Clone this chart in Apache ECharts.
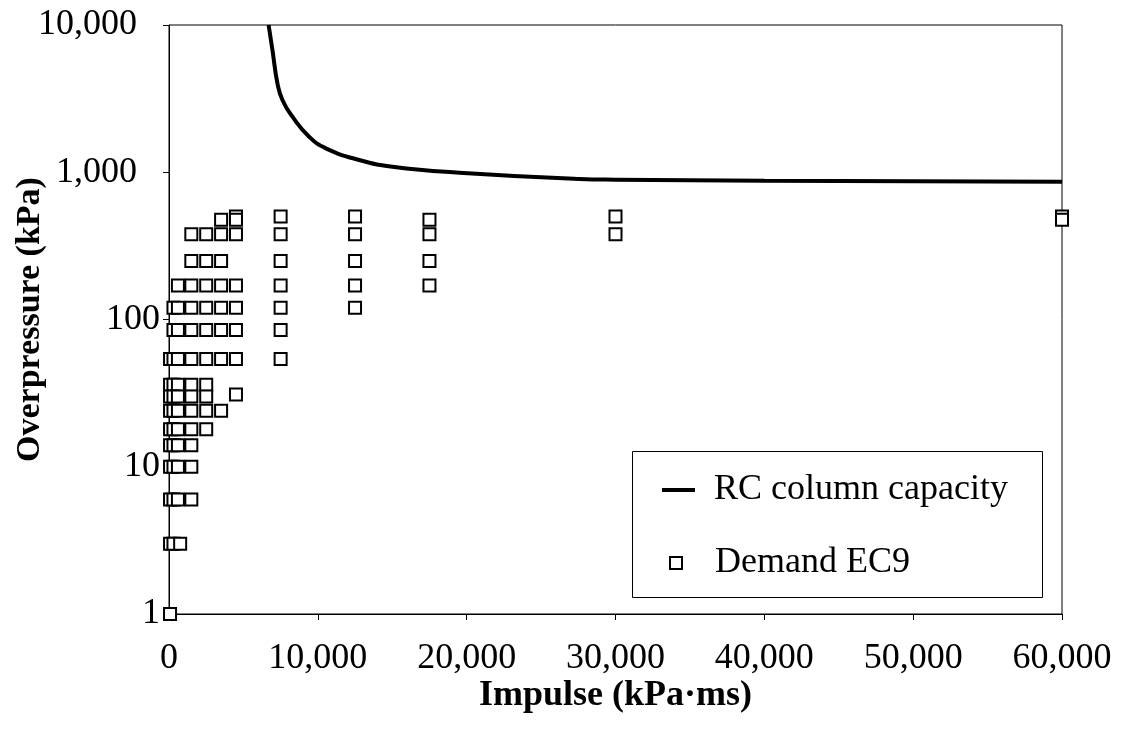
<!DOCTYPE html>
<html><head><meta charset="utf-8">
<script src="https://cdn.jsdelivr.net/npm/echarts@6/dist/echarts.min.js"></script>
<style>html,body{margin:0;padding:0;background:#fff}#c{width:1123px;height:729px}</style>
</head><body><div id="c"></div>
<script>
// Capacity curve (impulse kPa·ms, overpressure kPa)
const capacityImpulse = [6693, 6950, 7285, 7621, 8293, 9417, 10540, 12780, 15020, 19506, 27580, 30000, 40000, 50000, 60000];
const capacityPressure = [10000, 6761, 4018, 3097, 2384, 1744, 1454, 1211, 1091, 993, 900, 890, 875, 868, 862];

// Demand points, grouped by overpressure row
const demandRows = [
  { p: 500, impulses: [4500, 7500, 12500, 30000, 60000] },
  { p: 475, impulses: [3500, 4500, 17500, 60000] },
  { p: 380, impulses: [1500, 2500, 3500, 4500, 7500, 12500, 17500, 30000] },
  { p: 250, impulses: [1500, 2500, 3500, 7500, 12500, 17500] },
  { p: 170, impulses: [600, 1500, 2500, 3500, 4500, 7500, 12500, 17500] },
  { p: 120, impulses: [300, 600, 1500, 2500, 3500, 4500, 7500, 12500] },
  { p: 85, impulses: [300, 600, 1500, 2500, 3500, 4500, 7500] },
  { p: 54, impulses: [70, 300, 600, 1500, 2500, 3500, 4500, 7500] },
  { p: 36, impulses: [70, 300, 600, 1500, 2500] },
  { p: 31, impulses: [4500] },
  { p: 30, impulses: [70, 300, 600, 1500, 2500] },
  { p: 24, impulses: [70, 300, 600, 1500, 2500, 3500] },
  { p: 18, impulses: [70, 300, 600, 1500, 2500] },
  { p: 14, impulses: [70, 300, 600, 1500] },
  { p: 10, impulses: [70, 300, 600, 1500] },
  { p: 6, impulses: [70, 300, 600, 1500] },
  { p: 3, impulses: [70, 300, 750] },
  { p: 1, impulses: [70] }
];

const xTicks = [0, 10000, 20000, 30000, 40000, 50000, 60000];
const yTicks = [1, 10, 100, 1000, 10000];

const capacityData = capacityImpulse.map((x, i) => [x, capacityPressure[i]]);
const demandData = [];
demandRows.forEach(r => r.impulses.forEach(x => demandData.push([x, r.p])));

const fmt = v => Math.round(v).toString().replace(/\B(?=(\d{3})+(?!\d))/g, ',');
const FONT = '"Liberation Serif", "Times New Roman", serif';
const FS = 36;

const chart = echarts.init(document.getElementById('c'), null, { renderer: 'canvas' });
chart.setOption({
  backgroundColor: '#fff',
  animation: false,
  textStyle: { fontFamily: FONT, color: '#000' },
  grid: {
    left: 169, right: 61, top: 25, bottom: 115, containLabel: false, outerBoundsMode: 'none',
    show: true, borderColor: '#000', borderWidth: 1, backgroundColor: 'transparent'
  },
  xAxis: {
    type: 'value', min: 0, max: 60000, interval: 10000,
    name: 'Impulse (kPa·ms)', nameLocation: 'middle', nameGap: 64, nameMoveOverlap: false,
    nameTextStyle: { fontFamily: FONT, fontSize: FS, fontWeight: 'bold', color: '#000' },
    axisLine: { show: true, lineStyle: { color: '#000', width: 1 } },
    axisTick: { show: true, inside: false, length: 6, lineStyle: { color: '#000' } },
    axisLabel: { fontFamily: FONT, fontSize: FS, color: '#000', margin: 27, formatter: v => xTicks.includes(v) ? fmt(v) : '' },
    splitLine: { show: false }
  },
  yAxis: {
    type: 'log', logBase: 10, min: 1, max: 10000,
    name: 'Overpressure (kPa)', nameLocation: 'middle', nameGap: 122, nameMoveOverlap: false,
    nameTextStyle: { fontFamily: FONT, fontSize: 34, fontWeight: 'bold', color: '#000' },
    axisLine: { show: true, lineStyle: { color: '#000', width: 1 } },
    axisTick: { show: true, inside: false, length: 6, lineStyle: { color: '#000' } },
    minorTick: { show: false },
    axisLabel: {
      fontFamily: FONT, fontSize: FS, color: '#000', margin: 9,
      formatter: v => { const r = Math.round(v); if (!yTicks.includes(r)) return ''; return r >= 1000 ? '{p|' + fmt(r) + '}' : fmt(r); },
      rich: { p: { fontFamily: FONT, fontSize: FS, color: '#000', padding: [0, 23, 0, 0] } }
    },
    splitLine: { show: false }
  },
  legend: [
    {
      data: [{ name: 'RC column capacity', icon: 'rect', itemStyle: { color: '#000', borderWidth: 0 } }],
      left: 662, top: 472, itemWidth: 33, itemHeight: 4, itemGap: 0,
      textStyle: { fontFamily: FONT, fontSize: FS, color: '#000', padding: [0, 0, 0, 14] }, padding: 0
    },
    {
      data: [{ name: 'Demand EC9', icon: 'rect', itemStyle: { color: '#fff', borderColor: '#000', borderWidth: 2 } }],
      left: 669, top: 545, itemWidth: 12, itemHeight: 12, itemGap: 0,
      textStyle: { fontFamily: FONT, fontSize: FS, color: '#000', padding: [0, 0, 0, 28] }, padding: 0
    }
  ],
  graphic: [{ type: 'rect', left: 632, top: 451, shape: { width: 410, height: 146 }, style: { fill: '#fff', stroke: '#000', lineWidth: 1 }, z: -1 }],
  series: [
    {
      name: 'RC column capacity', type: 'line', data: capacityData, smooth: 0.5,
      showSymbol: false, symbol: 'none', clip: true,
      lineStyle: { color: '#000', width: 4 }, itemStyle: { color: '#000' }, z: 3
    },
    {
      name: 'Demand EC9', type: 'scatter', data: demandData, symbol: 'rect', symbolSize: 12,
      itemStyle: { color: '#fff', borderColor: '#000', borderWidth: 2, opacity: 1 }, z: 4
    }
  ]
});
</script></body></html>
